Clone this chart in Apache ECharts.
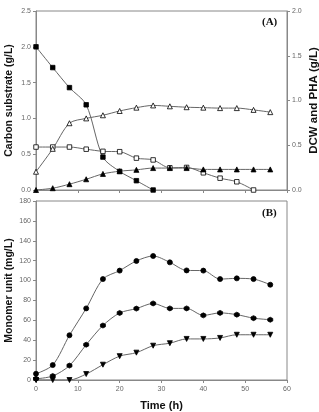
<!DOCTYPE html>
<html>
<head>
<meta charset="utf-8">
<script src="https://cdn.jsdelivr.net/npm/echarts@6/dist/echarts.min.js"></script>
<style>
    html, body { margin: 0; padding: 0; background: #fff; }
    .chart { width: 319px; height: 412px; }
</style>
</head>
<body>
<div class="chart"></div>
<script>
// 时间点 (h)
var time = [0, 4, 8, 12, 16, 20, 24, 28, 32, 36, 40, 44, 48, 52, 56];

// (A) carbon substrate, left axis
var substrateA = [2.0, 1.71, 1.43, 1.19, 0.46, 0.26, 0.13, 0.0];
var substrateB = [0.60, 0.60, 0.60, 0.57, 0.54, 0.535, 0.445, 0.42, 0.31, 0.315, 0.24, 0.165, 0.115, 0.0];
// (A) DCW and PHA, right axis
var dcw = [0.204, 0.46, 0.746, 0.80, 0.835, 0.883, 0.92, 0.945, 0.935, 0.925, 0.92, 0.915, 0.915, 0.895, 0.87];
var pha = [0, 0.02, 0.065, 0.12, 0.18, 0.21, 0.225, 0.245, 0.245, 0.245, 0.23, 0.23, 0.23, 0.23, 0.23];

// (B) monomer units
var monomer1 = [6.3, 15, 45, 72, 101.5, 110, 119.7, 124.7, 118.3, 110.2, 110, 101.5, 102.2, 101.5, 95.8];
var monomer2 = [1.2, 4, 14.5, 35.5, 54.8, 67.4, 71.8, 77, 72, 72, 65, 67.5, 65.7, 62.2, 60.6];
var monomer3 = [0, 0, 0, 6, 15.4, 24, 27.5, 34.5, 37, 41.3, 41.3, 42.3, 45.5, 45.5, 45.5];

// 刻度
var leftTicksA = [0, 2.5, 0.5];
var rightTicksA = [0, 2, 0.5];
var ticksB = [0, 180, 20];
var timeTicks = [0, 60, 10];

function pairs(vals) {
    return vals.map(function (v, i) { return [time[i], v]; });
}

var font = 'Liberation Sans, Arial, sans-serif';
var hexagon = 'path://M0,-10 L8.66,-5 L8.66,5 L0,10 L-8.66,5 L-8.66,-5 Z';

function mkLine(name, vals, x, y, symbol, filled, size, rotate) {
    return {
        name: name,
        type: 'line',
        xAxisIndex: x,
        yAxisIndex: y,
        data: pairs(vals),
        smooth: 0.3,
        symbol: symbol,
        symbolSize: size,
        symbolRotate: rotate || 0,
        showAllSymbol: true,
        lineStyle: { color: '#666', width: 1 },
        itemStyle: {
            color: filled ? '#000' : '#fff',
            borderColor: '#000',
            borderWidth: 0.8
        },
        z: 3,
        animation: false
    };
}

function yAx(grid, ticks, pos, name, gap, size) {
    return {
        type: 'value',
        gridIndex: grid,
        position: pos,
        min: ticks[0], max: ticks[1], interval: ticks[2],
        name: name,
        nameLocation: 'middle',
        nameRotate: 90,
        nameGap: gap,
        nameMoveOverlap: false,
        nameTextStyle: { fontFamily: font, fontWeight: 'bold', fontSize: size, color: '#111' },
        axisLine: { show: true, lineStyle: { color: '#888', width: 1 } },
        axisTick: { show: true, length: 3, lineStyle: { color: '#888' } },
        axisLabel: {
            color: '#666', fontSize: 7, fontFamily: font, margin: 5,
            formatter: function (v) { return ticks[1] < 10 ? v.toFixed(1) : String(v); }
        },
        splitLine: { show: false }
    };
}

var myChart = echarts.init(document.querySelector('.chart'));
var option = {
    backgroundColor: '#fff',
    grid: [
        { left: 36, right: 32, top: 11, bottom: 222, containLabel: false, outerBoundsMode: 'none', show: true, borderColor: '#888', borderWidth: 1 },
        { left: 36, right: 32, top: 201, bottom: 32, containLabel: false, outerBoundsMode: 'none', show: true, borderColor: '#888', borderWidth: 1 }
    ],
    xAxis: [
        {
            type: 'value', gridIndex: 0,
            min: timeTicks[0], max: timeTicks[1], interval: timeTicks[2],
            axisLine: { lineStyle: { color: '#888' } },
            axisTick: { length: 3, lineStyle: { color: '#888' } },
            axisLabel: { show: false },
            splitLine: { show: false }
        },
        {
            type: 'value', gridIndex: 1,
            min: timeTicks[0], max: timeTicks[1], interval: timeTicks[2],
            name: 'Time (h)',
            nameLocation: 'middle',
            nameGap: 20,
            nameMoveOverlap: false,
            nameTextStyle: { fontFamily: font, fontWeight: 'bold', fontSize: 11, color: '#111' },
            axisLine: { lineStyle: { color: '#888' } },
            axisTick: { length: 3, lineStyle: { color: '#888' } },
            axisLabel: { color: '#666', fontSize: 7, fontFamily: font, margin: 6 },
            splitLine: { show: false }
        }
    ],
    yAxis: [
        yAx(0, leftTicksA, 'left', 'Carbon substrate (g/L)', 21, 10.5),
        yAx(0, rightTicksA, 'right', 'DCW and PHA (g/L)', 21, 11.5),
        yAx(1, ticksB, 'left', 'Monomer unit (mg/L)', 21, 10.5)
    ],
    graphic: [
        { type: 'text', left: 262, top: 17, style: { text: '(A)', font: 'bold 11px "Liberation Serif", "Times New Roman", serif', fill: '#111' } },
        { type: 'text', left: 262, top: 208, style: { text: '(B)', font: 'bold 11px "Liberation Serif", "Times New Roman", serif', fill: '#111' } }
    ],
    series: [
        mkLine('substrate1', substrateA, 0, 0, 'rect', true, 4.5),
        mkLine('substrate2', substrateB, 0, 0, 'rect', false, 4.5),
        mkLine('DCW', dcw, 0, 1, 'triangle', false, 5),
        mkLine('PHA', pha, 0, 1, 'triangle', true, 5),
        mkLine('m1', monomer1, 1, 2, 'circle', true, 5),
        mkLine('m2', monomer2, 1, 2, hexagon, true, 5),
        mkLine('m3', monomer3, 1, 2, 'triangle', true, 5, 180)
    ]
};
myChart.setOption(option);
</script>
</body>
</html>
